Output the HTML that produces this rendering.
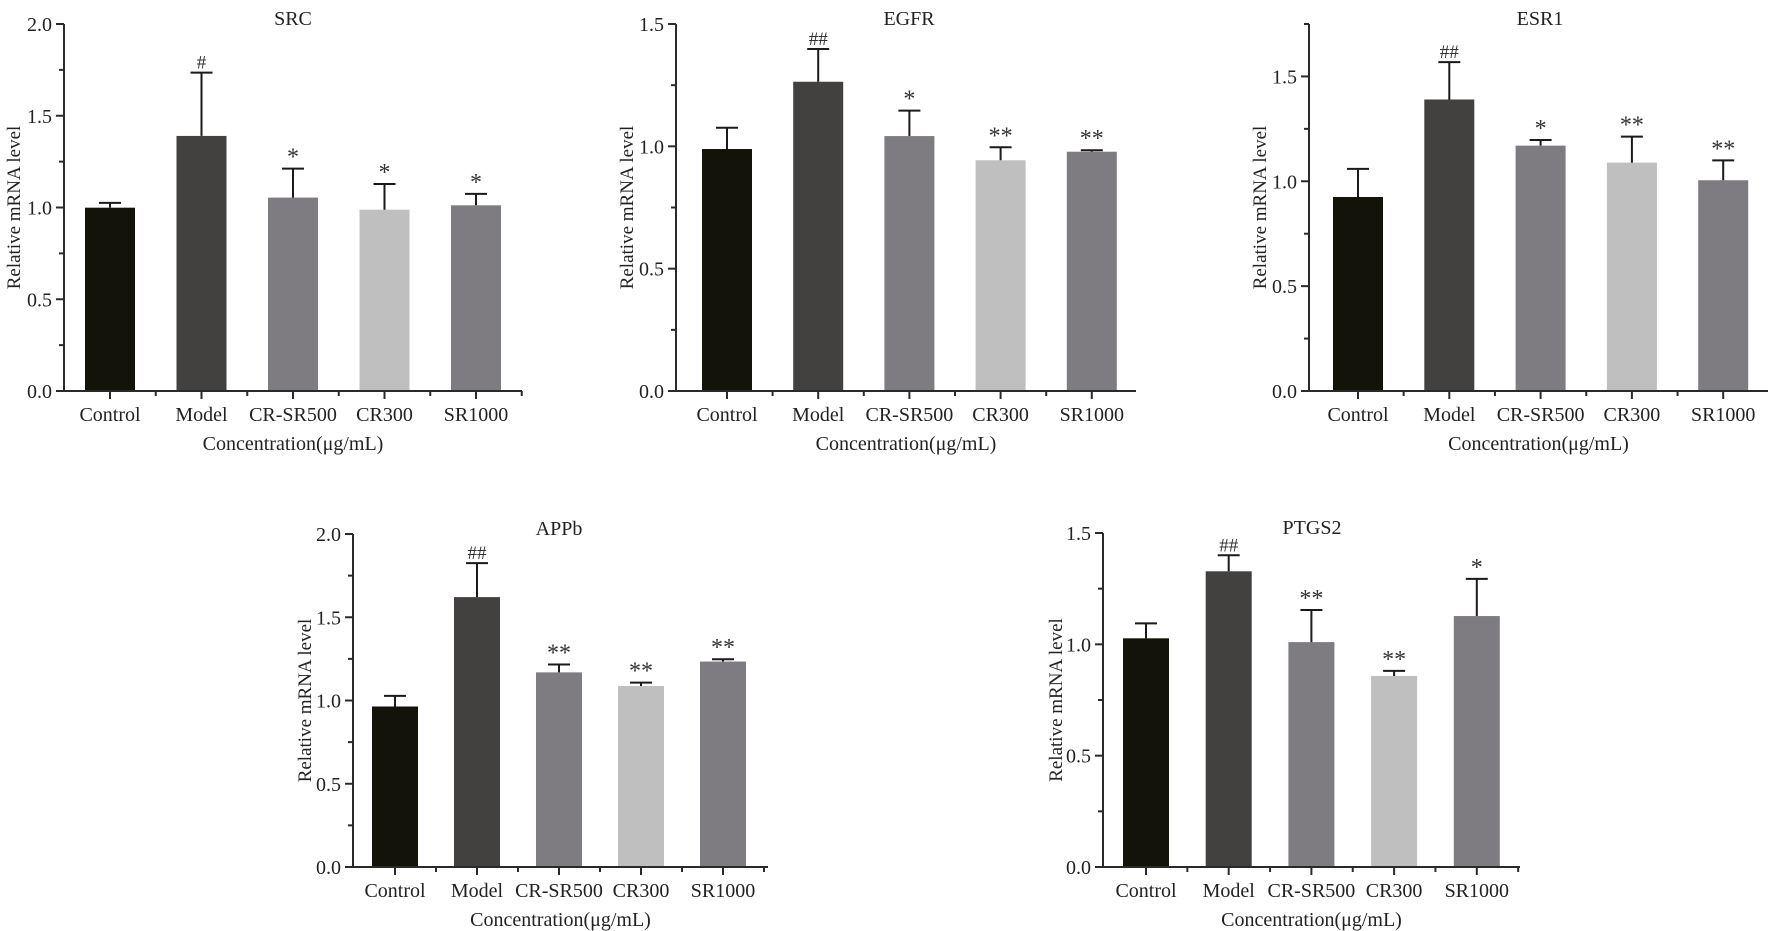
<!DOCTYPE html>
<html><head><meta charset="utf-8">
<style>
html,body{margin:0;padding:0;background:#fff;}
svg{display:block;font-family:"Liberation Serif","Times New Roman",serif;}
</style></head>
<body>
<svg id="fig" width="1772" height="931" viewBox="0 0 1772 931" xmlns="http://www.w3.org/2000/svg"></svg>
<script>
const categories = ["Control","Model","CR-SR500","CR300","SR1000"];
const barColors = ["#13130a","#434040","#7e7c80","#bfbfbf","#7e7c80"];

const srcValues = [0.999, 1.390, 1.054, 0.988, 1.012];
const srcErrors = [0.026, 0.345, 0.158, 0.140, 0.062];
const srcMarks = ["", "#", "*", "*", "*"];
const srcTicks = [0.0, 0.5, 1.0, 1.5, 2.0];

const egfrValues = [0.989, 1.264, 1.042, 0.943, 0.978];
const egfrErrors = [0.087, 0.134, 0.104, 0.053, 0.006];
const egfrMarks = ["", "##", "*", "**", "**"];
const egfrTicks = [0.0, 0.5, 1.0, 1.5];

const esr1Values = [0.925, 1.390, 1.170, 1.089, 1.005];
const esr1Errors = [0.134, 0.178, 0.027, 0.124, 0.095];
const esr1Marks = ["", "##", "*", "**", "**"];
const esr1Ticks = [0.0, 0.5, 1.0, 1.5];

const appbValues = [0.964, 1.621, 1.169, 1.087, 1.234];
const appbErrors = [0.064, 0.204, 0.047, 0.020, 0.014];
const appbMarks = ["", "##", "**", "**", "**"];
const appbTicks = [0.0, 0.5, 1.0, 1.5, 2.0];

const ptgs2Values = [1.027, 1.328, 1.010, 0.858, 1.127];
const ptgs2Errors = [0.067, 0.072, 0.144, 0.023, 0.167];
const ptgs2Marks = ["", "##", "**", "**", "*"];
const ptgs2Ticks = [0.0, 0.5, 1.0, 1.5];

const NS = "http://www.w3.org/2000/svg";
const svg = document.getElementById("fig");
function mk(tag, attrs, parent){
  const e = document.createElementNS(NS, tag);
  for (const k in attrs) e.setAttribute(k, attrs[k]);
  (parent||svg).appendChild(e);
  return e;
}

function drawPanel(cfg){
  const g = mk("g", {});
  
  
  const yScale = v => cfg.y0 - (v / cfg.ymax) * (cfg.y0 - cfg.yTop);
  const xScale = i => cfg.x1 + i * cfg.step;
  const stroke = "#2a2a2a";

  cfg.values.forEach((v, i) => {
    const cx = xScale(i);
    const top = yScale(v);
    const bar = mk("rect", {x: cx - cfg.bw/2, y: top, width: cfg.bw, height: cfg.y0 - top, fill: barColors[i]}, g);
    
    
    const et = yScale(v + cfg.errors[i]);
    const eb = mk("path", {d: `M${cx} ${top} V${et} M${cx-11} ${et} H${cx+11}`, stroke: "#1a1a1a", "stroke-width": 2, fill: "none"}, g);
    
    
    if (cfg.marks[i]) {
      const t = mk("text", {x: cx, y: et - 4, "text-anchor": "middle", "font-size": cfg.marks[i].indexOf("#")>=0 ? 19 : 24, fill: "#333"}, g);
      t.textContent = cfg.marks[i];
      
      
    }
  });

  const ax = mk("path", {d: `M${cfg.ax} ${cfg.yTop} V${cfg.y0} H${cfg.xEnd}`, stroke: stroke, "stroke-width": 2, fill: "none"}, g);
  
  

  for (let v = 0; v <= cfg.ymax + 1e-6; v += 0.25) {
    const y = yScale(v);
    const major = Math.abs(v*2 - Math.round(v*2)) < 1e-6;
    mk("line", {x1: cfg.ax - (major?8:5), x2: cfg.ax, y1: y, y2: y, stroke: stroke, "stroke-width": 2}, g);
  }
  cfg.ticks.forEach(v => {
    const t = mk("text", {x: cfg.ax - 12, y: yScale(v) + 7, "text-anchor": "end", "font-size": 20, fill: "#222"}, g);
    t.textContent = v.toFixed(1);
    
    
  });

  categories.forEach((c, i) => {
    const cx = xScale(i);
    mk("line", {x1: cx, x2: cx, y1: cfg.y0, y2: cfg.y0 + 8, stroke: stroke, "stroke-width": 2}, g);
    const mx = cx + cfg.step/2;
    if (mx < cfg.xEnd) mk("line", {x1: mx, x2: mx, y1: cfg.y0, y2: cfg.y0 + 5, stroke: stroke, "stroke-width": 2}, g);
    const t = mk("text", {x: cx, y: cfg.y0 + 30, "text-anchor": "middle", "font-size": 20, fill: "#222"}, g);
    t.textContent = c;
    
    
  });

  const title = mk("text", {x: cfg.titleX, y: cfg.yTop + 1, "text-anchor": "middle", "font-size": 20, fill: "#222"}, g);
  title.textContent = cfg.title;
  
  

  const xt = mk("text", {x: (cfg.ax + cfg.xEnd)/2, y: cfg.y0 + 59, "text-anchor": "middle", "font-size": 20, fill: "#222"}, g);
  xt.textContent = "Concentration(\u03bcg/mL)";
  
  

  const ym = (cfg.yTop + cfg.y0)/2;
  const yt = mk("text", {x: cfg.yTitleX, y: ym, "text-anchor": "middle", "font-size": 19, fill: "#222", transform: `rotate(-90 ${cfg.yTitleX} ${ym})`}, g);
  yt.textContent = "Relative mRNA level";
  
  
}

drawPanel({id:"src", title:"SRC", values:srcValues, errors:srcErrors, marks:srcMarks, ticks:srcTicks, ymax:2.0,
  ax:64, xEnd:522, x1:110, step:91.5, bw:50, yTop:24, y0:391, titleX:293, yTitleX:20});
drawPanel({id:"egfr", title:"EGFR", values:egfrValues, errors:egfrErrors, marks:egfrMarks, ticks:egfrTicks, ymax:1.5,
  ax:676, xEnd:1136, x1:727, step:91.2, bw:50, yTop:24, y0:391, titleX:909, yTitleX:633});
drawPanel({id:"esr1", title:"ESR1", values:esr1Values, errors:esr1Errors, marks:esr1Marks, ticks:esr1Ticks, ymax:1.75,
  ax:1309, xEnd:1768, x1:1358, step:91.3, bw:50, yTop:24, y0:391, titleX:1540, yTitleX:1266});
drawPanel({id:"appb", title:"APPb", values:appbValues, errors:appbErrors, marks:appbMarks, ticks:appbTicks, ymax:2.0,
  ax:353, xEnd:768, x1:395, step:82, bw:46, yTop:534, y0:867, titleX:559, yTitleX:311});
drawPanel({id:"ptgs2", title:"PTGS2", values:ptgs2Values, errors:ptgs2Errors, marks:ptgs2Marks, ticks:ptgs2Ticks, ymax:1.5,
  ax:1103, xEnd:1520, x1:1146, step:82.7, bw:46, yTop:533, y0:867, titleX:1312, yTitleX:1062});
</script>
</body></html>
